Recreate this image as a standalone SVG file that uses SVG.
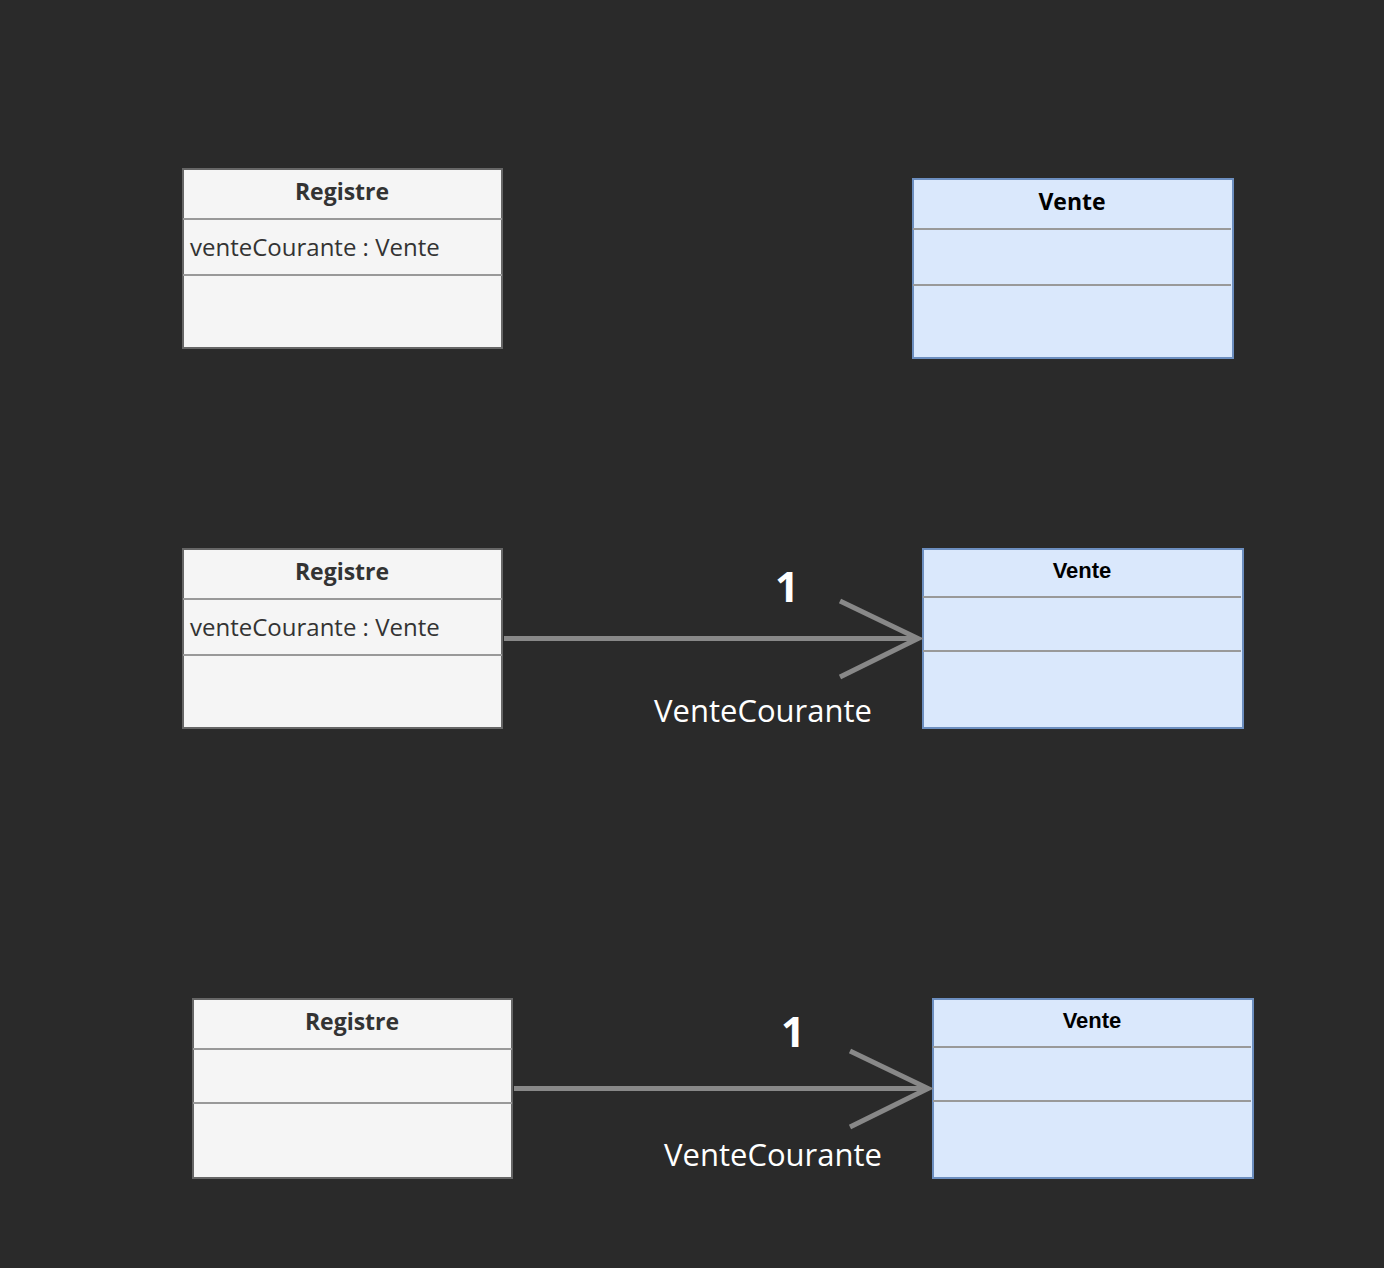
<svg xmlns="http://www.w3.org/2000/svg" width="1384" height="1268" viewBox="0 0 1384 1268">
<style>
.reg{fill:#f5f5f5;stroke:#666666;stroke-width:2}
.ven{fill:#dae8fc;stroke:#6c8ebf;stroke-width:2}
.div{stroke:#999999;stroke-width:2}
.comic{font-family:"Comic Sans MS","Open Sans",sans-serif}
.hdr{font-size:23px;font-weight:bold;text-anchor:middle}
.attr{font-size:24px;fill:#333333}
.helv{font-family:"Liberation Sans",Arial,sans-serif;font-size:22px;font-weight:bold;text-anchor:middle;fill:#000000}
.edge{stroke:#888888;stroke-width:5;fill:none}
.lbl{font-size:31px;fill:#ffffff}
.one{font-size:42px;font-weight:bold;fill:#ffffff}
</style>
<rect width="1384" height="1268" fill="#2a2a2a"/>
<g id="registre1">
<rect class="reg" x="183" y="169" width="319" height="179"/>
<line class="div" x1="183" y1="219" x2="502" y2="219"/>
<line class="div" x1="183" y1="275" x2="502" y2="275"/>
<text class="comic hdr" x="342" y="200" fill="#333333">Registre</text>
<text class="comic attr" x="190" y="256">venteCourante : Vente</text>
</g>
<g id="vente1">
<rect class="ven" x="913" y="179" width="320" height="179"/>
<line class="div" x1="913" y1="229" x2="1231" y2="229"/>
<line class="div" x1="913" y1="285" x2="1231" y2="285"/>
<text class="comic hdr" x="1072" y="210" fill="#000000">Vente</text>
</g>
<g id="registre2">
<rect class="reg" x="183" y="549" width="319" height="179"/>
<line class="div" x1="183" y1="599" x2="502" y2="599"/>
<line class="div" x1="183" y1="655" x2="502" y2="655"/>
<text class="comic hdr" x="342" y="580" fill="#333333">Registre</text>
<text class="comic attr" x="190" y="636">venteCourante : Vente</text>
</g>
<g id="vente2">
<rect class="ven" x="923" y="549" width="320" height="179"/>
<line class="div" x1="923" y1="597" x2="1241" y2="597"/>
<line class="div" x1="923" y1="651" x2="1241" y2="651"/>
<text class="helv" x="1082" y="578">Vente</text>
</g>
<g id="registre3">
<rect class="reg" x="193" y="999" width="319" height="179"/>
<line class="div" x1="193" y1="1049" x2="512" y2="1049"/>
<line class="div" x1="193" y1="1103" x2="512" y2="1103"/>
<text class="comic hdr" x="352" y="1030" fill="#333333">Registre</text>
</g>
<g id="vente3">
<rect class="ven" x="933" y="999" width="320" height="179"/>
<line class="div" x1="933" y1="1047" x2="1251" y2="1047"/>
<line class="div" x1="933" y1="1101" x2="1251" y2="1101"/>
<text class="helv" x="1092" y="1028">Vente</text>
</g>
<g id="connectors">
<line class="edge" x1="504" y1="638.5" x2="918" y2="638.5"/>
<polyline class="edge" points="840,601 918,638.5 840,677"/>
<text class="comic one" x="787" y="602" text-anchor="middle">1</text>
<text class="comic lbl" x="763" y="722" text-anchor="middle">VenteCourante</text>
<line class="edge" x1="514" y1="1088.5" x2="928" y2="1088.5"/>
<polyline class="edge" points="850,1051 928,1088.5 850,1127"/>
<text class="comic one" x="793" y="1047" text-anchor="middle">1</text>
<text class="comic lbl" x="773" y="1166" text-anchor="middle">VenteCourante</text>
</g>
</svg>
